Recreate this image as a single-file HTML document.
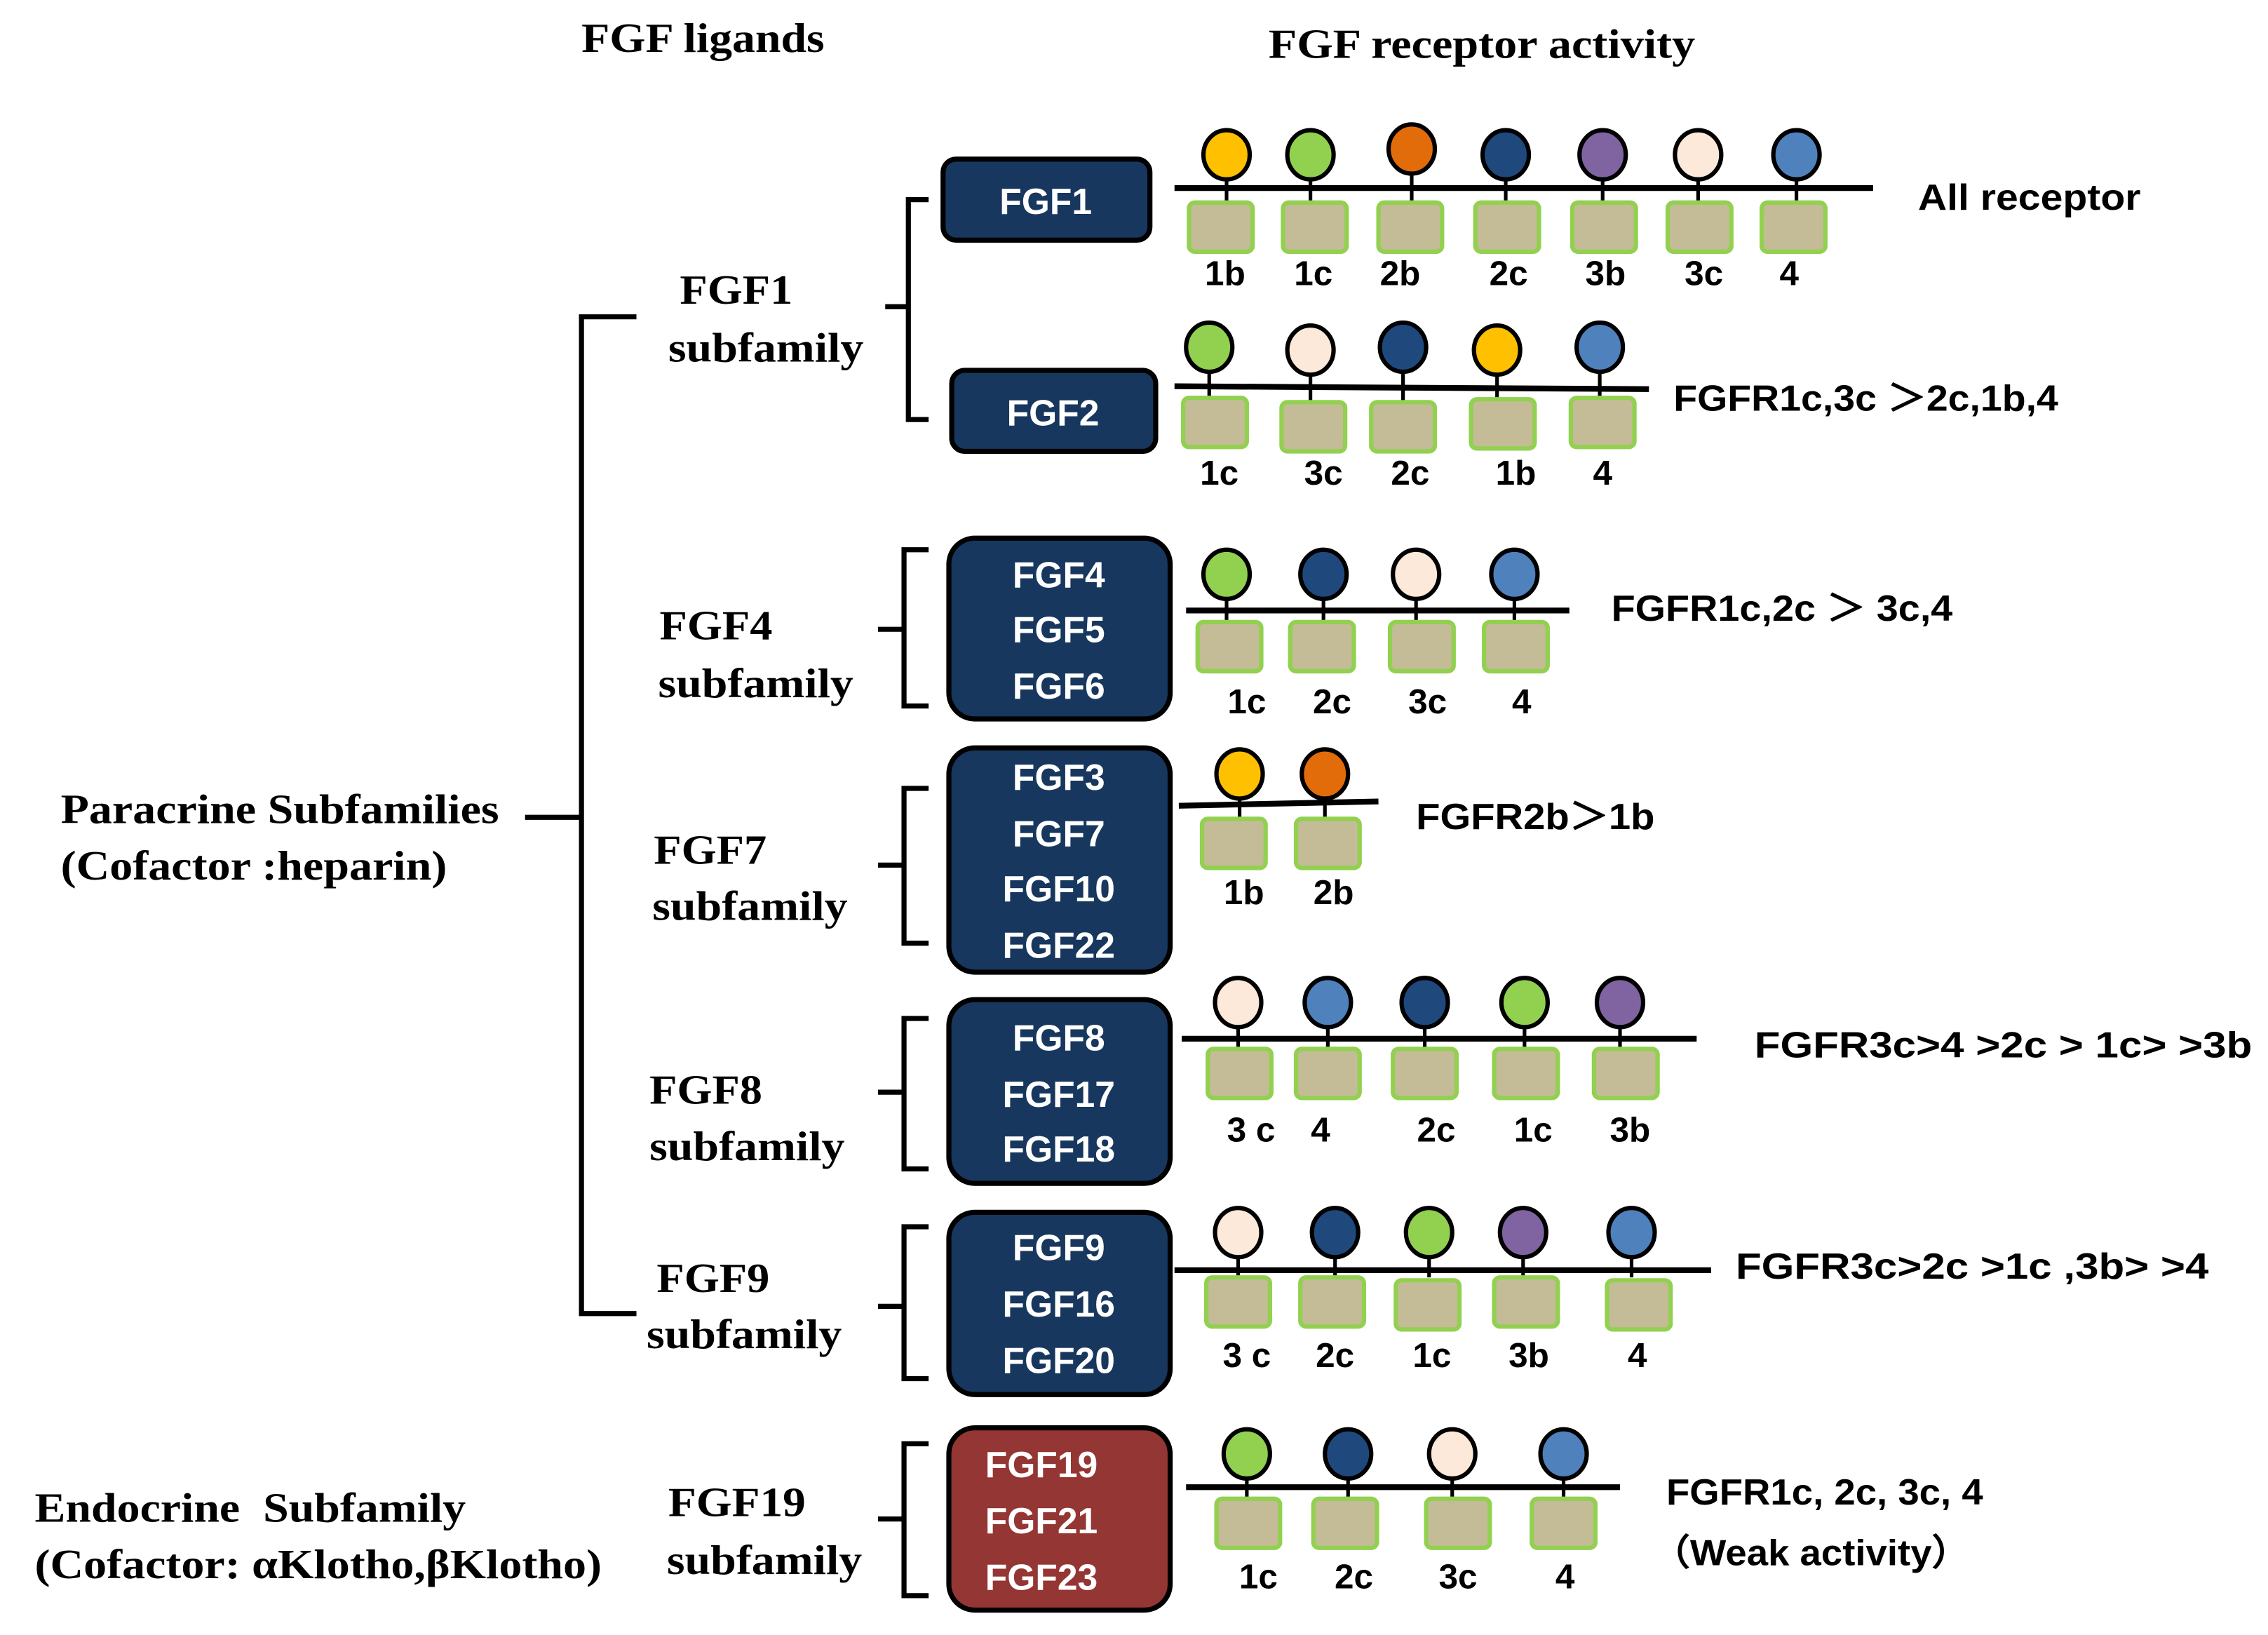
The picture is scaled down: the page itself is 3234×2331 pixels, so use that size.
<!DOCTYPE html>
<html><head><meta charset="utf-8"><style>
html,body{margin:0;padding:0;background:#fff}
svg{display:block}
.sr{font-family:"Liberation Serif",serif;font-weight:bold;font-size:29px;fill:#000}
.ss{font-family:"Liberation Sans",sans-serif;font-weight:bold;font-size:25px;fill:#000}
.wt{font-family:"Liberation Sans",sans-serif;font-weight:bold;font-size:25px;fill:#fff;text-anchor:middle}
.lb{font-family:"Liberation Sans",sans-serif;font-weight:bold;font-size:24px;fill:#000;text-anchor:middle}
.br{fill:none;stroke:#000;stroke-width:3.5}
.mb{stroke:#000;stroke-width:4}
.sq{fill:#c4bc96;stroke:#92d050;stroke-width:3}
.st{stroke:#000;stroke-width:2.5}
.e{stroke:#000;stroke-width:3}
.bx{stroke:#000;stroke-width:3.5}
</style></head><body>
<svg width="3234" height="2331" viewBox="0 0 1568 1130.2" xmlns="http://www.w3.org/2000/svg">
<defs>
<g id="sq"><rect x="-22" y="0" width="44" height="34" rx="4" class="sq"/></g>
</defs>
<text class="sr" x="402" y="36" textLength="168" lengthAdjust="spacingAndGlyphs">FGF ligands</text>
<text class="sr" x="877" y="40" textLength="295" lengthAdjust="spacingAndGlyphs">FGF receptor activity</text>

<path class="br" d="M440 219 H402 V908 H440 M363 565 H402"/>
<text class="sr" x="42" y="569" textLength="303" lengthAdjust="spacingAndGlyphs">Paracrine Subfamilies</text>
<text class="sr" x="42" y="608" textLength="267" lengthAdjust="spacingAndGlyphs">(Cofactor :heparin)</text>
<text class="sr" x="24" y="1052" xml:space="preserve" textLength="298" lengthAdjust="spacingAndGlyphs">Endocrine  Subfamily</text>
<text class="sr" x="24" y="1091" textLength="392" lengthAdjust="spacingAndGlyphs">(Cofactor: αKlotho,βKlotho)</text>

<text class="sr" x="470" y="210" textLength="78" lengthAdjust="spacingAndGlyphs">FGF1</text><text class="sr" x="462" y="250" textLength="135" lengthAdjust="spacingAndGlyphs">subfamily</text>
<text class="sr" x="456" y="442" textLength="78" lengthAdjust="spacingAndGlyphs">FGF4</text><text class="sr" x="455" y="482" textLength="135" lengthAdjust="spacingAndGlyphs">subfamily</text>
<text class="sr" x="452" y="597" textLength="78" lengthAdjust="spacingAndGlyphs">FGF7</text><text class="sr" x="451" y="636" textLength="135" lengthAdjust="spacingAndGlyphs">subfamily</text>
<text class="sr" x="449" y="763" textLength="78" lengthAdjust="spacingAndGlyphs">FGF8</text><text class="sr" x="449" y="802" textLength="135" lengthAdjust="spacingAndGlyphs">subfamily</text>
<text class="sr" x="454" y="893" textLength="78" lengthAdjust="spacingAndGlyphs">FGF9</text><text class="sr" x="447" y="932" textLength="135" lengthAdjust="spacingAndGlyphs">subfamily</text>
<text class="sr" x="462" y="1048" textLength="95" lengthAdjust="spacingAndGlyphs">FGF19</text><text class="sr" x="461" y="1088" textLength="135" lengthAdjust="spacingAndGlyphs">subfamily</text>

<path class="br" d="M642 138 H628 V290 H642 M612 212 H628"/>
<path class="br" d="M642 380 H625 V488 H642 M607 435 H625"/>
<path class="br" d="M642 545 H625 V652 H642 M607 598 H625"/>
<path class="br" d="M642 704 H625 V808 H642 M607 755 H625"/>
<path class="br" d="M642 848 H625 V953 H642 M607 903 H625"/>
<path class="br" d="M642 998 H625 V1103 H642 M607 1050 H625"/>

<rect class="bx" x="652" y="110" width="143" height="56" rx="9" fill="#17375e"/>
<text class="wt" x="723" y="148">FGF1</text>
<rect class="bx" x="658" y="256" width="141" height="56" rx="9" fill="#17375e"/>
<text class="wt" x="728" y="294">FGF2</text>
<rect class="bx" x="656" y="372" width="153" height="125" rx="18" fill="#17375e"/>
<text class="wt" x="732" y="406">FGF4</text><text class="wt" x="732" y="444">FGF5</text><text class="wt" x="732" y="483">FGF6</text>
<rect class="bx" x="656" y="517" width="153" height="155" rx="18" fill="#17375e"/>
<text class="wt" x="732" y="546">FGF3</text><text class="wt" x="732" y="585">FGF7</text><text class="wt" x="732" y="623">FGF10</text><text class="wt" x="732" y="662">FGF22</text>
<rect class="bx" x="656" y="691" width="153" height="127" rx="18" fill="#17375e"/>
<text class="wt" x="732" y="726">FGF8</text><text class="wt" x="732" y="765">FGF17</text><text class="wt" x="732" y="803">FGF18</text>
<rect class="bx" x="656" y="838" width="153" height="126" rx="18" fill="#17375e"/>
<text class="wt" x="732" y="871">FGF9</text><text class="wt" x="732" y="910">FGF16</text><text class="wt" x="732" y="949">FGF20</text>
<rect class="bx" x="656" y="987" width="153" height="126" rx="18" fill="#943634"/>
<text class="wt" x="720" y="1021">FGF19</text><text class="wt" x="720" y="1060">FGF21</text><text class="wt" x="720" y="1099">FGF23</text>

<g>
<line class="st" x1="848" y1="124" x2="848" y2="140"/><line class="st" x1="906" y1="124" x2="906" y2="140"/><line class="st" x1="976" y1="120" x2="976" y2="140"/><line class="st" x1="1041" y1="124" x2="1041" y2="140"/><line class="st" x1="1108" y1="124" x2="1108" y2="140"/><line class="st" x1="1174" y1="124" x2="1174" y2="140"/><line class="st" x1="1242" y1="124" x2="1242" y2="140"/>
<line class="mb" x1="812" y1="130" x2="1295" y2="130"/>
<ellipse class="e" cx="848" cy="107" rx="16" ry="17" fill="#ffc000"/>
<ellipse class="e" cx="906" cy="107" rx="16" ry="17" fill="#92d050"/>
<ellipse class="e" cx="976" cy="103" rx="16" ry="17" fill="#e36c0a"/>
<ellipse class="e" cx="1041" cy="107" rx="16" ry="17" fill="#1f497d"/>
<ellipse class="e" cx="1108" cy="107" rx="16" ry="17" fill="#8064a2"/>
<ellipse class="e" cx="1174" cy="107" rx="16" ry="17" fill="#fde9d9"/>
<ellipse class="e" cx="1242" cy="107" rx="16" ry="17" fill="#4f81bd"/>
<use href="#sq" x="844" y="140"/><use href="#sq" x="909" y="140"/><use href="#sq" x="975" y="140"/><use href="#sq" x="1042" y="140"/><use href="#sq" x="1109" y="140"/><use href="#sq" x="1175" y="140"/><use href="#sq" x="1240" y="140"/>
<text class="lb" x="847" y="197">1b</text><text class="lb" x="908" y="197">1c</text><text class="lb" x="968" y="197">2b</text><text class="lb" x="1043" y="197">2c</text><text class="lb" x="1110" y="197">3b</text><text class="lb" x="1178" y="197">3c</text><text class="lb" x="1237" y="197">4</text>
<text class="ss" x="1326" y="145" textLength="154" lengthAdjust="spacingAndGlyphs">All receptor</text>
</g>

<g>
<line class="st" x1="836" y1="256" x2="836" y2="275"/><line class="st" x1="906" y1="258" x2="906" y2="278"/><line class="st" x1="970" y1="256" x2="970" y2="278"/><line class="st" x1="1035" y1="258" x2="1035" y2="276"/><line class="st" x1="1106" y1="256" x2="1106" y2="275"/>
<line class="mb" x1="812" y1="267" x2="1140" y2="269"/>
<ellipse class="e" cx="836" cy="240" rx="16" ry="17" fill="#92d050"/>
<ellipse class="e" cx="906" cy="242" rx="16" ry="17" fill="#fde9d9"/>
<ellipse class="e" cx="970" cy="240" rx="16" ry="17" fill="#1f497d"/>
<ellipse class="e" cx="1035" cy="242" rx="16" ry="17" fill="#ffc000"/>
<ellipse class="e" cx="1106" cy="240" rx="16" ry="17" fill="#4f81bd"/>
<use href="#sq" x="840" y="275"/><use href="#sq" x="908" y="278"/><use href="#sq" x="970" y="278"/><use href="#sq" x="1039" y="276"/><use href="#sq" x="1108" y="275"/>
<text class="lb" x="843" y="335">1c</text><text class="lb" x="915" y="335">3c</text><text class="lb" x="975" y="335">2c</text><text class="lb" x="1048" y="335">1b</text><text class="lb" x="1108" y="335">4</text>
<text class="ss" x="1157" y="284" textLength="266" lengthAdjust="spacingAndGlyphs">FGFR1c,3c ＞2c,1b,4</text>
</g>

<g>
<line class="st" x1="848" y1="413" x2="848" y2="430"/><line class="st" x1="915" y1="413" x2="915" y2="430"/><line class="st" x1="979" y1="413" x2="979" y2="430"/><line class="st" x1="1047" y1="413" x2="1047" y2="430"/>
<line class="mb" x1="820" y1="422" x2="1085" y2="422"/>
<ellipse class="e" cx="848" cy="397" rx="16" ry="17" fill="#92d050"/>
<ellipse class="e" cx="915" cy="397" rx="16" ry="17" fill="#1f497d"/>
<ellipse class="e" cx="979" cy="397" rx="16" ry="17" fill="#fde9d9"/>
<ellipse class="e" cx="1047" cy="397" rx="16" ry="17" fill="#4f81bd"/>
<use href="#sq" x="850" y="430"/><use href="#sq" x="914" y="430"/><use href="#sq" x="983" y="430"/><use href="#sq" x="1048" y="430"/>
<text class="lb" x="862" y="493">1c</text><text class="lb" x="921" y="493">2c</text><text class="lb" x="987" y="493">3c</text><text class="lb" x="1052" y="493">4</text>
<text class="ss" x="1114" y="429" textLength="236" lengthAdjust="spacingAndGlyphs">FGFR1c,2c ＞ 3c,4</text>
</g>

<g>
<line class="st" x1="857" y1="550" x2="857" y2="566"/><line class="st" x1="916" y1="550" x2="916" y2="566"/>
<line class="mb" x1="815" y1="557" x2="953" y2="554"/>
<ellipse class="e" cx="857" cy="535" rx="16" ry="17" fill="#ffc000"/>
<ellipse class="e" cx="916" cy="535" rx="16" ry="17" fill="#e36c0a"/>
<use href="#sq" x="853" y="566"/><use href="#sq" x="918" y="566"/>
<text class="lb" x="860" y="625">1b</text><text class="lb" x="922" y="625">2b</text>
<text class="ss" x="979" y="573" textLength="165" lengthAdjust="spacingAndGlyphs">FGFR2b＞1b</text>
</g>

<g>
<line class="st" x1="856" y1="710" x2="856" y2="725"/><line class="st" x1="918" y1="710" x2="918" y2="725"/><line class="st" x1="985" y1="710" x2="985" y2="725"/><line class="st" x1="1054" y1="710" x2="1054" y2="725"/><line class="st" x1="1120" y1="710" x2="1120" y2="725"/>
<line class="mb" x1="817" y1="718" x2="1173" y2="718"/>
<ellipse class="e" cx="856" cy="693" rx="16" ry="17" fill="#fde9d9"/>
<ellipse class="e" cx="918" cy="693" rx="16" ry="17" fill="#4f81bd"/>
<ellipse class="e" cx="985" cy="693" rx="16" ry="17" fill="#1f497d"/>
<ellipse class="e" cx="1054" cy="693" rx="16" ry="17" fill="#92d050"/>
<ellipse class="e" cx="1120" cy="693" rx="16" ry="17" fill="#8064a2"/>
<use href="#sq" x="857" y="725"/><use href="#sq" x="918" y="725"/><use href="#sq" x="985" y="725"/><use href="#sq" x="1055" y="725"/><use href="#sq" x="1124" y="725"/>
<text class="lb" x="865" y="789">3 c</text><text class="lb" x="913" y="789">4</text><text class="lb" x="993" y="789">2c</text><text class="lb" x="1060" y="789">1c</text><text class="lb" x="1127" y="789">3b</text>
<text class="ss" x="1213" y="731" textLength="344" lengthAdjust="spacingAndGlyphs">FGFR3c&gt;4 &gt;2c &gt; 1c&gt; &gt;3b</text>
</g>

<g>
<line class="st" x1="856" y1="869" x2="856" y2="883"/><line class="st" x1="923" y1="869" x2="923" y2="883"/><line class="st" x1="988" y1="869" x2="988" y2="883"/><line class="st" x1="1053" y1="869" x2="1053" y2="883"/><line class="st" x1="1128" y1="869" x2="1128" y2="883"/>
<line class="mb" x1="812" y1="878" x2="1183" y2="878"/>
<ellipse class="e" cx="856" cy="852" rx="16" ry="17" fill="#fde9d9"/>
<ellipse class="e" cx="923" cy="852" rx="16" ry="17" fill="#1f497d"/>
<ellipse class="e" cx="988" cy="852" rx="16" ry="17" fill="#92d050"/>
<ellipse class="e" cx="1053" cy="852" rx="16" ry="17" fill="#8064a2"/>
<ellipse class="e" cx="1128" cy="852" rx="16" ry="17" fill="#4f81bd"/>
<use href="#sq" x="856" y="883"/><use href="#sq" x="921" y="883"/><use href="#sq" x="987" y="885"/><use href="#sq" x="1055" y="883"/><use href="#sq" x="1133" y="885"/>
<text class="lb" x="862" y="945">3 c</text><text class="lb" x="923" y="945">2c</text><text class="lb" x="990" y="945">1c</text><text class="lb" x="1057" y="945">3b</text><text class="lb" x="1132" y="945">4</text>
<text class="ss" x="1200" y="884" textLength="327" lengthAdjust="spacingAndGlyphs">FGFR3c&gt;2c &gt;1c ,3b&gt; &gt;4</text>
</g>

<g>
<line class="st" x1="862" y1="1021" x2="862" y2="1036"/><line class="st" x1="932" y1="1021" x2="932" y2="1036"/><line class="st" x1="1004" y1="1021" x2="1004" y2="1036"/><line class="st" x1="1081" y1="1021" x2="1081" y2="1036"/>
<line class="mb" x1="820" y1="1028" x2="1120" y2="1028"/>
<ellipse class="e" cx="862" cy="1005" rx="16" ry="17" fill="#92d050"/>
<ellipse class="e" cx="932" cy="1005" rx="16" ry="17" fill="#1f497d"/>
<ellipse class="e" cx="1004" cy="1005" rx="16" ry="17" fill="#fde9d9"/>
<ellipse class="e" cx="1081" cy="1005" rx="16" ry="17" fill="#4f81bd"/>
<use href="#sq" x="863" y="1036"/><use href="#sq" x="930" y="1036"/><use href="#sq" x="1008" y="1036"/><use href="#sq" x="1081" y="1036"/>
<text class="lb" x="870" y="1098">1c</text><text class="lb" x="936" y="1098">2c</text><text class="lb" x="1008" y="1098">3c</text><text class="lb" x="1082" y="1098">4</text>
<text class="ss" x="1152" y="1040" textLength="219" lengthAdjust="spacingAndGlyphs">FGFR1c, 2c, 3c, 4</text>
<text class="ss" x="1142" y="1082" textLength="220" lengthAdjust="spacingAndGlyphs" font-family="'Liberation Sans','Noto Sans CJK SC',sans-serif">（Weak activity）</text>
</g>
</svg>
</body></html>
